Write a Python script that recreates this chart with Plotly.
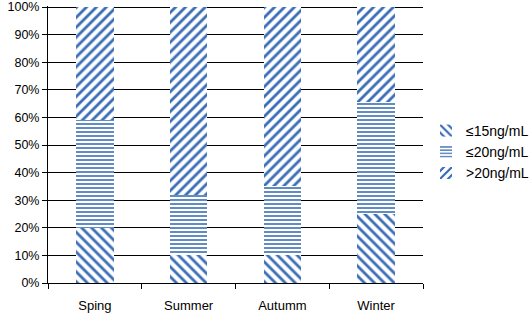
import plotly.graph_objects as go

categories = ["Sping", "Summer", "Autumm", "Winter"]
le15 = [20, 10, 10, 25]
le20 = [39, 22, 25, 40.5]
gt20 = [41, 68, 65, 34.5]
series_names = ["≤15ng/mL", "≤20ng/mL", ">20ng/mL"]
y_ticks = list(range(0, 101, 10))
y_labels = [f"{v}%" for v in y_ticks]

blue = "#3A6DB5"
shapes = ["\\", "-", "/"]
sizes = [7, 4, 7]

fig = go.Figure()
for name, vals, shp, sz in zip(series_names, [le15, le20, gt20], shapes, sizes):
    fig.add_trace(go.Bar(
        x=categories, y=vals, name=name,
        marker=dict(color="white", line=dict(width=0),
                    pattern=dict(shape=shp, fgcolor=blue, bgcolor="white",
                                 size=sz, solidity=0.4, fillmode="replace",
                                 fgopacity=1)),
        width=0.4,
    ))

fig.update_layout(
    barmode="stack",
    width=529, height=316,
    margin=dict(l=48, r=106, t=6, b=33, autoexpand=False),
    paper_bgcolor="white", plot_bgcolor="white",
    font=dict(family="Liberation Sans, Arial, sans-serif", size=13, color="black"),
    legend=dict(x=1.008, y=0.473, xanchor="left", yanchor="middle",
                traceorder="normal", font=dict(size=14),
                itemwidth=30, tracegroupgap=0, bgcolor="rgba(0,0,0,0)"),
    showlegend=True,
)
fig.update_xaxes(showline=True, linecolor="black", linewidth=1,
                 ticks="outside", tickson="boundaries", ticklen=5, tickcolor="black",
                 showgrid=False, ticklabelstandoff=10, automargin=False)
fig.update_yaxes(range=[0, 100.4], tickvals=y_ticks, ticktext=y_labels,
                 tickfont=dict(size=12.5), ticklabeloverflow="allow",
                 showline=True, linecolor="black", linewidth=1,
                 ticks="outside", ticklen=5, tickcolor="black",
                 showgrid=True, gridcolor="black", gridwidth=1, zeroline=False,
                 automargin=False)

fig.write_html("out.html", config={"displayModeBar": False},
               post_script="document.body.style.margin='0';")
